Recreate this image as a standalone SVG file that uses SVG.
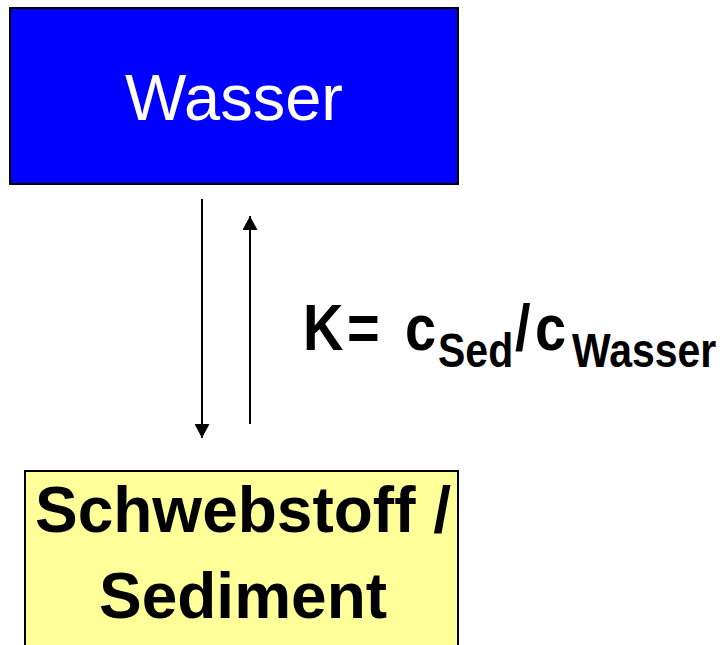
<svg xmlns="http://www.w3.org/2000/svg" width="727" height="645" viewBox="0 0 727 645">
<style>
.box{stroke:#000;stroke-width:2}
.lbl{font-family:"Liberation Sans",Arial,sans-serif}
.b{font-weight:bold;fill:#000}
.conn{stroke:#000;stroke-width:2;fill:none}
.m{font-size:56px}
.s{font-size:41px}
</style>
<defs>
<marker id="ah" viewBox="0 0 14 15" refX="14" refY="7.5" markerWidth="14" markerHeight="15" markerUnits="userSpaceOnUse" orient="auto">
<path d="M0,0 L14,7.5 L0,15 Z" fill="#000"/>
</marker>
</defs>
<rect width="727" height="645" fill="#fff"/>
<g id="wasser">
<rect class="box" x="10" y="8" width="448" height="176" fill="#0000ff"/>
<text class="lbl" x="234" y="120" font-size="65" fill="#fff" text-anchor="middle">Wasser</text>
</g>
<g id="sediment">
<rect class="box" x="25" y="471" width="433" height="190" fill="#ffff99"/>
<text class="lbl b" x="243" y="532" font-size="64" text-anchor="middle">Schwebstoff /</text>
<text class="lbl b" x="243" y="618" font-size="64" text-anchor="middle">Sediment</text>
</g>
<g id="connectors">
<line class="conn" x1="202" y1="199" x2="202" y2="438" marker-end="url(#ah)"/>
<line class="conn" x1="250" y1="424" x2="250" y2="216" marker-end="url(#ah)"/>
</g>
<g id="formula" class="lbl b">
<text class="m" transform="matrix(1,0,0,1.15,303,350)">K</text>
<text class="m" transform="matrix(1,0,0,1.15,347,350)">=</text>
<text class="m" transform="matrix(1,0,0,1.15,405,350)">c</text>
<text class="s" transform="matrix(1,0,0,1.15,438,367)">Sed</text>
<text class="m" transform="matrix(1,0,0,1.15,515,350)">/</text>
<text class="m" transform="matrix(1,0,0,1.15,535,350)">c</text>
<text class="s" transform="matrix(1,0,0,1.15,572,367)">Wasser</text>
</g>
</svg>
